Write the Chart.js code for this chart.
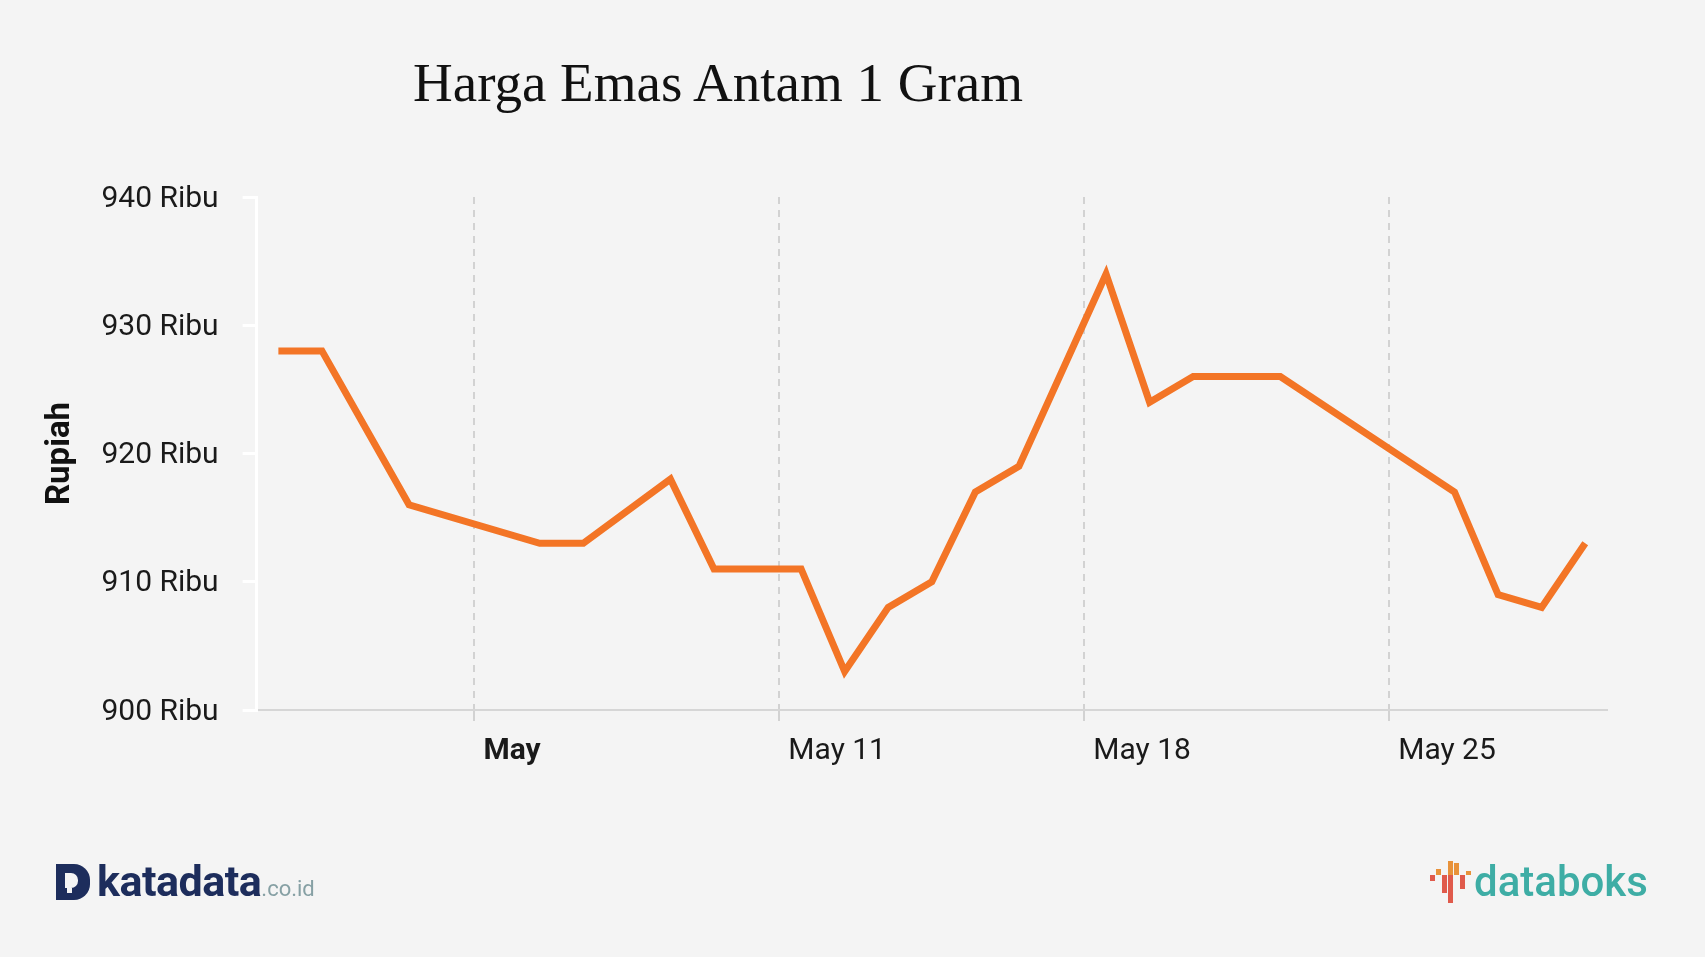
<!DOCTYPE html>
<html lang="id">
<head>
  <meta charset="UTF-8" />
  <title>Harga Emas Antam 1 Gram</title>
  <script src="https://cdn.jsdelivr.net/npm/chart.js"></script>
  <style>
    html, body { margin: 0; padding: 0; }
    body {
      background-color: #f4f4f4;
      width: 1705px;
      height: 957px;
      position: relative;
      overflow: hidden;
      font-family: Roboto, sans-serif;
    }
    #title {
      position: absolute;
      left: 413px;
      top: 55px;
      font-family: "Liberation Serif", serif;
      font-size: 55px;
      line-height: 55px;
      color: #111;
      white-space: nowrap;
    }
    #chart { position: absolute; left: 0; top: 0; }
    .katadata { position: absolute; left: 56px; top: 860px; height: 44px; }
    .kd-icon { position: absolute; left: 0; top: 4px; width: 34px; height: 36px; background: #1d2d5c; border-radius: 0 16px 16px 0; }
    .kd-icon i { position: absolute; left: 9px; top: 9px; width: 13px; height: 15px; background: #f4f4f4; border-radius: 0 7px 7px 0; }
    .kd-icon b { position: absolute; left: 11px; top: 24px; width: 5px; height: 5px; background: #f4f4f4; }
    .kd-text { position: absolute; left: 41px; top: -4px; font-size: 43px; font-weight: 700; color: #1d2d5c; letter-spacing: -0.5px; white-space: nowrap; }
    .kd-text span { font-size: 22px; font-weight: 400; color: #86a0a4; letter-spacing: 0; }
    .databoks { position: absolute; left: 1430px; top: 858px; width: 230px; height: 50px; }
    .db-bar { position: absolute; width: 5px; }
    .db-text { position: absolute; left: 44px; top: -1px; font-size: 42px; font-weight: 500; color: #3eada5; white-space: nowrap; }
  </style>
</head>
<body>

  <div id="title">Harga Emas Antam 1 Gram</div>
  <canvas id="chart" width="1705" height="957"></canvas>

  <div class="katadata">
    <div class="kd-icon"><i></i><b></b></div>
    <div class="kd-text">katadata<span>.co.id</span></div>
  </div>

  <div class="databoks">
    <div class="db-bar" style="left:0;top:17px;height:6px;background:#e05a4b"></div>
    <div class="db-bar" style="left:6px;top:11px;height:6px;background:#e8923a"></div>
    <div class="db-bar" style="left:12px;top:17px;height:18px;background:#e05a4b"></div>
    <div class="db-bar" style="left:18px;top:3px;height:14px;background:#e8923a"></div>
    <div class="db-bar" style="left:18px;top:17px;height:28px;background:#e05a4b"></div>
    <div class="db-bar" style="left:24px;top:5px;height:12px;background:#e8923a"></div>
    <div class="db-bar" style="left:30px;top:17px;height:14px;background:#e05a4b"></div>
    <div class="db-bar" style="left:36px;top:13px;height:4px;background:#e8923a"></div>
    <div class="db-text">databoks</div>
  </div>

  <script>
    // harga per tanggal (ribu rupiah)
    const dates = ['2020-04-29', '2020-04-30', '2020-05-02', '2020-05-05', '2020-05-06',
                   '2020-05-08', '2020-05-09', '2020-05-11', '2020-05-12', '2020-05-13',
                   '2020-05-14', '2020-05-15', '2020-05-16', '2020-05-18', '2020-05-19',
                   '2020-05-20', '2020-05-22', '2020-05-26', '2020-05-27', '2020-05-28',
                   '2020-05-29'];
    const prices = [928, 928, 916, 913, 913, 918, 911, 911, 903, 908, 910,
                    917, 919, 934, 924, 926, 926, 917, 909, 908, 913];

    const tickDates = ['2020-05-04', '2020-05-11', '2020-05-18', '2020-05-25'];
    const tickLabels = ['May', 'May 11', 'May 18', 'May 25'];
    const yTicks = [900, 910, 920, 930, 940];

    const DAY = 86400000;
    const toDay = s => Date.parse(s + 'T00:00:00Z') / DAY;

    // points sit at midday of each date
    const points = dates.map((d, i) => ({ x: toDay(d) + 0.5, y: prices[i] }));

    new Chart(document.getElementById('chart'), {
      type: 'line',
      data: {
        datasets: [{
          data: points,
          borderColor: '#f37526',
          borderWidth: 7,
          pointRadius: 0,
          tension: 0,
          fill: false,
          borderCapStyle: 'butt',
          borderJoinStyle: 'miter'
        }]
      },
      options: {
        responsive: false,
        animation: false,
        layout: { padding: { left: 32, top: 197, right: 98, bottom: 187 } },
        plugins: {
          legend: { display: false },
          tooltip: { enabled: false }
        },
        scales: {
          x: {
            type: 'linear',
            min: toDay('2020-04-29'),
            max: toDay('2020-05-30'),
            afterBuildTicks: s => { s.ticks = tickDates.map(d => ({ value: toDay(d) })); },
            afterFit: s => { s.height = 60; },
            grid: { color: '#d2d2d2', lineWidth: 2, tickLength: 11 },
            border: { color: '#d6d6d6', width: 2, dash: [7, 6] },
            ticks: {
              autoSkip: false,
              maxRotation: 0,
              align: 'start',
              labelOffset: 9,
              padding: 12,
              color: '#1a1a1a',
              font: c => ({ family: 'Roboto', size: 30, weight: c.index === 0 ? 'bold' : 'normal' }),
              callback: (v, i) => tickLabels[i]
            }
          },
          y: {
            min: yTicks[0],
            max: yTicks[yTicks.length - 1],
            afterBuildTicks: s => { s.ticks = yTicks.map(v => ({ value: v })); },
            afterFit: s => { s.width = 224.6; },
            grid: { drawOnChartArea: false, color: '#ffffff', lineWidth: 3, tickLength: 14 },
            border: { color: '#ffffff', width: 3 },
            ticks: {
              padding: 24,
              labelOffset: 2,
              color: '#1a1a1a',
              font: { family: 'Roboto', size: 30 },
              callback: v => v + ' Ribu'
            },
            title: {
              display: true,
              text: 'Rupiah',
              color: '#111',
              font: { family: 'Roboto', size: 33, weight: 'bold' },
              padding: { top: 9, bottom: 0 }
            }
          }
        }
      }
    });
  </script>
</body>
</html>
